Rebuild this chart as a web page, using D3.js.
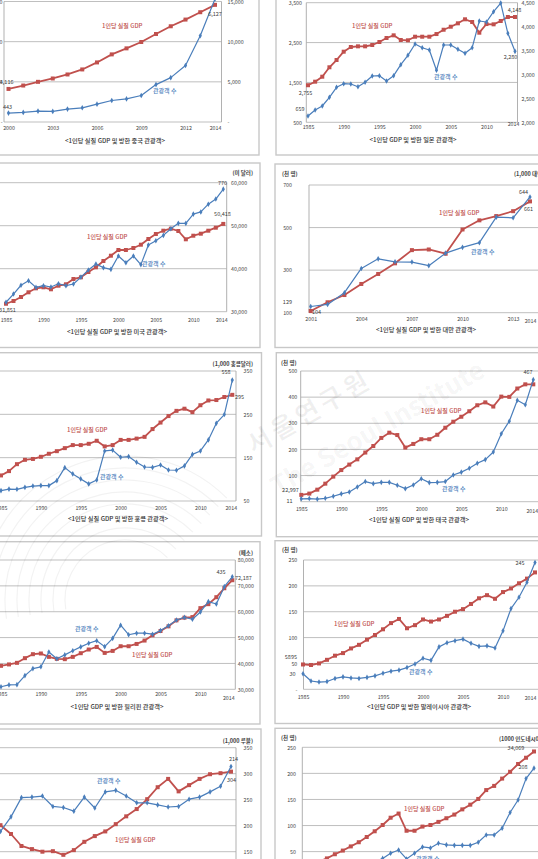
<!DOCTYPE html>
<html>
<head>
<meta charset="utf-8">
<script src="https://cdn.jsdelivr.net/npm/d3@7"></script>
<style>
  html, body { margin: 0; padding: 0; background: #fff; }
  svg { display: block; font-family: "Noto Sans CJK KR", "Noto Sans", sans-serif; }
</style>
</head>
<body>
<svg id="chart" width="538" height="859"></svg>
<script>
// ---- data ----
const years85 = [1985, 1986, 1987, 1988, 1989, 1990, 1991, 1992, 1993, 1994, 1995, 1996, 1997, 1998, 1999,
                 2000, 2001, 2002, 2003, 2004, 2005, 2006, 2007, 2008, 2009, 2010, 2011, 2012, 2013, 2014];
const years00 = [2000, 2001, 2002, 2003, 2004, 2005, 2006, 2007, 2008, 2009, 2010, 2011, 2012, 2013, 2014];
const years01 = [2001, 2002, 2003, 2004, 2005, 2006, 2007, 2008, 2009, 2010, 2011, 2012, 2013, 2014];
const years92 = [1992, 1993, 1994, 1995, 1996, 1997, 1998, 1999, 2000, 2001, 2002, 2003, 2004, 2005, 2006,
                 2007, 2008, 2009, 2010, 2011, 2012, 2013, 2014];
const years94 = [1994, 1995, 1996, 1997, 1998, 1999, 2000, 2001, 2002, 2003, 2004, 2005, 2006, 2007, 2008,
                 2009, 2010, 2011, 2012, 2013, 2014];
const years87 = [1987, 1988, 1989, 1990, 1991, 1992, 1993, 1994, 1995, 1996, 1997, 1998, 1999, 2000, 2001,
                 2002, 2003, 2004, 2005, 2006, 2007, 2008, 2009, 2010, 2011, 2012, 2013, 2014];

const chinaVisitors = [443, 479, 543, 528, 642, 706, 889, 1071, 1150, 1318, 1862, 2208, 2816, 4298, 6127];
const chinaGdp = [4116, 4540, 5000, 5417, 5917, 6542, 7417, 8417, 9167, 9958, 10958, 11917, 12750, 13667, 14583];

const japanVisitors = [659, 808, 909, 1127, 1378, 1468, 1461, 1393, 1503, 1661, 1669, 1536, 1669, 1945, 2180,
                       2464, 2371, 2313, 1804, 2439, 2439, 2331, 2231, 2371, 3041, 3016, 3274, 3492, 2732, 2280];
const japanGdp = [2775, 2849, 2953, 3150, 3302, 3476, 3574, 3588, 3588, 3616, 3678, 3762, 3818, 3720, 3714,
                  3789, 3789, 3789, 3845, 3935, 3998, 4069, 4153, 4096, 3873, 4054, 4048, 4117, 4201, 4201];

const usVisitors = [244, 282, 323, 344, 313, 321, 315, 330, 321, 329, 361, 394, 422, 405, 397,
                    459, 428, 459, 419, 510, 530, 555, 586, 611, 611, 654, 664, 700, 724, 770];
const usGdp = [31851, 32488, 33419, 34512, 35442, 35674, 35209, 36047, 36372, 37605, 38000, 39233, 40326, 41791, 43023,
               44349, 44349, 44814, 45581, 46907, 48070, 48837, 49302, 48767, 46837, 47674, 48140, 48837, 49535, 50418];

const taiwanVisitors = [129, 139, 194, 308, 353, 339, 338, 321, 380, 407, 429, 549, 546, 644];
const taiwanGdp = [108, 149, 183, 235, 282, 332, 394, 397, 377, 491, 534, 554, 577, 623];

const hkVisitors = [48, 55, 54, 63, 69, 71, 71, 94, 154, 125, 102, 79, 97, 231, 235,
                    202, 205, 179, 157, 155, 166, 143, 142, 162, 215, 231, 282, 359, 399, 558];
const hkGdp = [109, 119, 135, 145, 147, 152, 159, 165, 172, 179, 179, 182, 189, 176, 179,
               191, 191, 194, 198, 216, 231, 246, 258, 263, 255, 271, 282, 283, 290, 295];

const thaiVisitors = [11, 12, 10, 13, 21, 30, 37, 56, 77, 69, 74, 74, 63, 50, 64,
                      88, 73, 74, 77, 102, 113, 128, 147, 161, 190, 260, 308, 388, 371, 467];
const thaiGdp = [26, 31, 46, 69, 96, 121, 142, 162, 188, 213, 244, 264, 255, 207, 221,
                 239, 239, 256, 283, 306, 325, 346, 369, 380, 364, 402, 401, 433, 449, 449];

const philVisitors = [10, 17, 18, 53, 80, 87, 144, 118, 133, 149, 164, 178, 188, 165, 197,
                      248, 211, 217, 217, 213, 227, 246, 268, 278, 271, 299, 339, 330, 397, 435];
const philGdp = [39077, 39615, 40231, 42038, 43577, 43846, 42538, 41769, 41654, 42538, 43961, 45385, 46385, 44077, 44846,
                 46654, 46654, 47538, 48846, 50885, 52538, 54346, 56654, 57692, 57923, 61385, 62923, 65615, 69077, 72187];

const malayVisitors = [30, 16, 14, 15, 21, 24, 22, 21, 23, 26, 31, 35, 37, 42, 49,
                       60, 56, 82, 90, 94, 97, 89, 83, 84, 80, 113, 156, 178, 207, 245];
const malayGdp = [48, 47, 50, 57, 65, 70, 79, 86, 96, 105, 116, 128, 136, 118, 124,
                  135, 131, 135, 142, 150, 155, 165, 176, 182, 175, 188, 195, 205, 214, 226];

const russiaVisitors = [89, 117, 154, 155, 157, 137, 135, 128, 155, 134, 165, 168, 157, 144, 144,
                        140, 136, 137, 151, 155, 165, 176, 214];
const russiaGdp = [201, 184, 161, 155, 150, 151, 144, 153, 169, 180, 189, 203, 218, 232, 251,
                   274, 290, 266, 278, 290, 299, 301, 304];

const indoVisitors = [30, 37, 47, 53, 36, 47, 59, 57, 66, 63, 62, 62, 62, 68, 82, 82, 95, 125, 149, 190, 210];
const indoGdp = [31, 37, 45, 52, 60, 68, 78, 89, 101, 115, 123, 90, 90, 98, 101, 107, 114, 121, 131, 140,
                 151, 168, 176, 190, 203, 218, 230, 242];

const ticks85 = [1985, 1990, 1995, 2000, 2005, 2010, 2014];

// ---- layout ----
const svg = d3.select("#chart");
const RED = "#c0504d", BLUE = "#4a7ebb";
const comma = d3.format(",");
const dashZero = d => d === 0 ? "-" : comma(d);
const GDP = "1인당 실질 GDP", VIS = "관광객 수";

const panels = [
  { // China
    box: [-5, -10, 264, 165], l: 4, r: 221.5, t: 1.5, b: 122, x0: 8.5, x1: 215,
    years: years00, xTicks: [2000, 2003, 2006, 2009, 2012, 2014], xLabelY: 128,
    left: { domain: [0, 6000], ticks: [0, 2000, 4000, 6000], labelX: 2.5, fmt: dashZero },
    right: { domain: [0, 15000], ticks: [0, 5000, 10000, 15000], labelX: 227.5, fmt: dashZero },
    blue: { values: chinaVisitors, axis: "left" }, red: { values: chinaGdp, axis: "right" },
    caption: ["<1인당 실질 GDP 및 방한 중국 관광객>", 115, 141],
    texts: [["4,116", 13.5, 82, "end"], ["443", 7.5, 107, "middle"], ["6,127", 215, 14, "middle"],
            [GDP, 102, 26, "start", RED], [VIS, 153, 91, "start", BLUE]]
  },
  { // Japan
    box: [276, -10, 270, 165], l: 306.3, r: 517.5, t: 2.7, b: 122.3, x0: 308, x1: 515,
    years: years85, xTicks: ticks85, xLabelY: 126.7, lastDy: -2.4, lastDx: -2,
    left: { domain: [500, 3500], ticks: [500, 1500, 2500, 3500], labelX: 302 },
    right: { domain: [2000, 4500], ticks: [2000, 2500, 3000, 3500, 4000, 4500], labelX: 521.5 },
    blue: { values: japanVisitors, axis: "left" }, red: { values: japanGdp, axis: "right" },
    caption: ["<1인당 GDP 및 방한 일본 관광객>", 413, 140],
    texts: [["2,755", 305.5, 93.3, "middle"], ["659", 300, 109, "middle"], ["4,148", 514.5, 10, "middle"],
            ["2,280", 510.5, 57.3, "middle"], [GDP, 352, 26, "start", RED], [VIS, 434, 76.7, "start", BLUE]]
  },
  { // USA
    box: [-5, 163, 265, 184.5], l: -3, r: 226.7, t: 182.7, b: 311.7, x0: 6, x1: 223.3,
    years: years85, xTicks: ticks85, xLabelY: 320, lastDx: -2,
    left: { domain: [200, 800], ticks: [200, 400, 600, 800], hidden: true },
    right: { domain: [30000, 60000], ticks: [30000, 40000, 50000, 60000], labelX: 231 },
    blue: { values: usVisitors, axis: "left" }, red: { values: usGdp, axis: "right" },
    caption: ["<1인당 실질 GDP 및 방한 미국 관광객>", 117, 331.7],
    texts: [["(미 달러)", 253, 173, "end", null, true], ["770", 222.5, 183, "middle"], ["50,418", 222.5, 214, "middle"],
            ["31,851", 7.5, 310, "middle"], [GDP, 87, 236.7, "start", RED], [VIS, 142, 264, "start", BLUE]]
  },
  { // Taiwan
    box: [275, 164, 270, 183.5], l: 309, r: 545, t: 185, b: 312.7, x0: 310.7, x1: 530,
    years: years01, xTicks: [2001, 2004, 2007, 2010, 2013, 2014], xLabelY: 319.3, lastDy: 1.8,
    left: { domain: [100, 700], ticks: [100, 300, 500, 700], labelX: 292 },
    right: { domain: [100, 700], ticks: [], hidden: true },
    blue: { values: taiwanVisitors, axis: "left" }, red: { values: taiwanGdp, axis: "right" },
    caption: ["<1인당 실질 GDP 및 방한 대만 관광객>", 426, 330],
    texts: [["(천 명)", 282, 174, "start", null, true], ["(1,000 대만달러)", 514, 174, "start", null, true],
            ["129", 292, 302, "end"], ["104", 312, 311.7, "start"], ["644", 523.5, 191.7, "middle"],
            ["661", 528.5, 209, "middle"], [GDP, 439, 213, "start", RED], [VIS, 471, 252, "start", BLUE]]
  },
  { // Hong Kong
    box: [-5, 352.7, 266.5, 183.3], l: -3, r: 236, t: 371, b: 501, x0: 1, x1: 232.3,
    years: years85, xTicks: ticks85, xLabelY: 508.3, lastDx: -1.5,
    left: { domain: [0, 600], ticks: [0, 200, 400, 600], hidden: true },
    right: { domain: [50, 350], ticks: [50, 150, 250, 350], labelX: 243.5 },
    blue: { values: hkVisitors, axis: "left" }, red: { values: hkGdp, axis: "right" },
    caption: ["<1인당 실질 GDP 및 방한 홍콩 관광객>", 118, 519],
    texts: [["(1,000 홍콩달러)", 253, 364, "end", null, true], ["558", 226, 372.3, "middle"], ["295", 235, 397.3, "start"],
            [GDP, 67, 430, "start", RED], [VIS, 100, 477.3, "start", BLUE]]
  },
  { // Thailand
    box: [276.3, 352.7, 270, 184], l: 300.7, r: 545, t: 371, b: 501.7, x0: 301.3, x1: 533.3,
    years: years85, xTicks: ticks85, xLabelY: 509.3, lastDy: 1.8, lastDx: -1.5,
    left: { domain: [0, 500], ticks: [0, 100, 200, 300, 400, 500], labels: [100, 200, 300, 400, 500], labelX: 297.3 },
    right: { domain: [0, 500], ticks: [], hidden: true },
    blue: { values: thaiVisitors, axis: "left" }, red: { values: thaiGdp, axis: "right" },
    caption: ["<1인당 실질 GDP 및 방한 태국 관광객>", 419, 520],
    texts: [["(천 명)", 281, 363, "start", null, true], ["22,997", 290.5, 490, "middle"], ["11", 289.5, 500.7, "middle"],
            ["467", 528, 372.3, "middle"], [GDP, 421, 411, "start", RED], [VIS, 442, 489, "start", BLUE]]
  },
  { // Philippines
    box: [-5, 541.7, 265, 182.3], l: -3, r: 235.3, t: 560, b: 689.3, x0: 1, x1: 232.3,
    years: years85, xTicks: ticks85, xLabelY: 694.3, lastDy: 4, lastDx: -4,
    left: { domain: [0, 500], ticks: [0, 100, 200, 300, 400, 500], hidden: true },
    right: { domain: [30000, 80000], ticks: [30000, 40000, 50000, 60000, 70000, 80000], labelX: 237.7 },
    blue: { values: philVisitors, axis: "left" }, red: { values: philGdp, axis: "right" },
    caption: ["<1인당 GDP 및 방한 필리핀 관광객>", 117, 706.7],
    texts: [["(페소)", 253, 552.7, "end", null, true], ["435", 221, 572.3, "middle"], ["72,187", 235, 578, "start"],
            [VIS, 75, 629, "start", BLUE], [GDP, 132, 655.3, "start", RED]]
  },
  { // Malaysia
    box: [275, 540.7, 270, 182.8], l: 303.5, r: 545, t: 560, b: 689.3, x0: 303, x1: 535,
    years: years85, xTicks: ticks85, xLabelY: 696.7, lastDy: 1.5, lastDx: -5,
    left: { domain: [0, 250], ticks: [0, 50, 100, 150, 200, 250], labelX: 297.3, fmt: dashZero },
    right: { domain: [0, 250], ticks: [], hidden: true },
    blue: { values: malayVisitors, axis: "left" }, red: { values: malayGdp, axis: "right" },
    caption: ["<1인당 GDP 및 방한 말레이시아 관광객>", 419, 707.3],
    texts: [["(천 명)", 282, 550, "start", null, true], ["5895", 297, 657.3, "end"], ["30", 295.5, 674, "end"],
            ["245", 520, 563.3, "middle"], [GDP, 334, 624, "start", RED], [VIS, 409, 671.7, "start", BLUE]]
  },
  { // Russia
    box: [-5, 729, 266, 150], l: -3, r: 236, t: 747.7, b: 877.7, x0: 0.5, x1: 231,
    years: years92, xTicks: [], xLabelY: 885,
    left: { domain: [0, 250], ticks: [0, 50, 100, 150, 200, 250], hidden: true },
    right: { domain: [100, 350], ticks: [100, 150, 200, 250, 300, 350], labelX: 243.5 },
    blue: { values: russiaVisitors, axis: "left" }, red: { values: russiaGdp, axis: "right" },
    caption: null,
    texts: [["(1,000 루블)", 253, 740.7, "end", null, true], ["214", 233.5, 759, "middle"], ["304", 231.5, 780, "middle"],
            [VIS, 97, 781, "start", BLUE], [GDP, 115, 840, "start", RED]]
  },
  { // Indonesia
    box: [275, 728.3, 270, 150], l: 302.3, r: 545, t: 747.3, b: 877.7, x0: 303, x1: 534,
    years: years85, xTicks: [], xLabelY: 885,
    left: { domain: [0, 250], ticks: [0, 50, 100, 150, 200, 250], labelX: 296 },
    right: { domain: [0, 250], ticks: [], hidden: true },
    blue: { values: indoVisitors, years: years94, axis: "left" },
    red: { values: indoGdp, years: years87, axis: "right" },
    caption: null,
    texts: [["(천 명)", 281, 737.7, "start", null, true], ["(1000 인도네시아 루피아)", 499, 739, "start", null, true],
            ["208", 523, 767.3, "middle"], ["34,069", 516, 748.3, "middle"],
            [GDP, 404, 809, "start", RED], [VIS, 416, 859, "start", BLUE]]
  }
];

function styleAxis(a) {
  a.select(".domain").remove();
  a.attr("font-family", null).attr("font-size", null);
  a.selectAll("text").attr("font-size", 5.3).attr("fill", "#454545");
}

function drawPanel(p) {
  const g = svg.append("g");
  g.append("rect")
    .attr("x", p.box[0]).attr("y", p.box[1]).attr("width", p.box[2]).attr("height", p.box[3])
    .attr("fill", "#fff").attr("stroke", "#c8c8c8").attr("stroke-width", 1.4);

  const x = d3.scaleLinear().domain([p.years[0], p.years[p.years.length - 1]]).range([p.x0, p.x1]);
  const yL = d3.scaleLinear().domain(p.left.domain).range([p.b, p.t]);
  const yR = d3.scaleLinear().domain(p.right.domain).range([p.b, p.t]);

  // gridlines
  g.selectAll("line.grid").data(p.left.ticks).join("line")
    .attr("class", "grid")
    .attr("x1", p.l).attr("x2", p.r)
    .attr("y1", d => yL(d)).attr("y2", d => yL(d))
    .attr("stroke", "#b8b8b8").attr("stroke-width", 0.9);

  // vertical axis lines
  [p.l, p.r].forEach(v => {
    g.append("line").attr("x1", v).attr("x2", v).attr("y1", p.t).attr("y2", p.b)
      .attr("stroke", "#a8a8a8").attr("stroke-width", 0.9);
  });

  if (!p.left.hidden) {
    g.append("g").attr("transform", `translate(${p.left.labelX},0)`)
      .call(d3.axisLeft(yL).tickValues(p.left.labels || p.left.ticks)
        .tickSize(0).tickPadding(0).tickFormat(p.left.fmt || comma))
      .call(styleAxis);
  }
  if (!p.right.hidden) {
    g.append("g").attr("transform", `translate(${p.right.labelX},0)`)
      .call(d3.axisRight(yR).tickValues(p.right.ticks)
        .tickSize(0).tickPadding(0).tickFormat(p.right.fmt || comma))
      .call(styleAxis);
  }

  const xa = g.append("g").attr("transform", `translate(0,${p.xLabelY})`)
    .call(d3.axisBottom(x).tickValues(p.xTicks).tickSize(0).tickPadding(0).tickFormat(d3.format("d")))
    .call(styleAxis);
  xa.selectAll("text").attr("dy", "0.35em")
    .attr("y", d => d === 2014 ? (p.lastDy || 0) : 0)
    .attr("x", d => d === 2014 ? (p.lastDx || 0) : 0);

  // series
  const defs = [
    { s: p.red, color: RED, width: 1.8, shape: d3.symbolSquare, size: 16 },
    { s: p.blue, color: BLUE, width: 1.2, shape: d3.symbolDiamond, size: 9 }
  ];
  defs.forEach(d => {
    const yrs = d.s.years || p.years;
    const y = d.s.axis === "left" ? yL : yR;
    const pts = d.s.values.map((v, i) => [x(yrs[i]), y(v)]);
    g.append("path").datum(pts)
      .attr("d", d3.line())
      .attr("fill", "none").attr("stroke", d.color).attr("stroke-width", d.width)
      .attr("stroke-linejoin", "round");
    g.selectAll(null).data(pts).join("path")
      .attr("transform", q => `translate(${q[0]},${q[1]})`)
      .attr("d", d3.symbol().type(d.shape).size(d.size))
      .attr("fill", d.color);
  });

  // annotations
  p.texts.forEach(([t, tx, ty, anchor, color, bold]) => {
    const legend = color != null;
    g.append("text").attr("x", tx).attr("y", ty).attr("dy", "0.35em")
      .attr("text-anchor", anchor)
      .attr("font-size", legend ? 6 : 5.5)
      .attr("font-weight", bold ? "bold" : legend ? 500 : null)
      .attr("fill", color || "#404040")
      .text(t);
  });
  if (p.caption) {
    g.append("text").attr("x", p.caption[1]).attr("y", p.caption[2]).attr("dy", "0.35em")
      .attr("text-anchor", "middle").attr("font-size", 6.2).attr("font-weight", 500)
      .attr("fill", "#333").text(p.caption[0]);
  }
}

panels.forEach(drawPanel);

// faint watermark
const wm = svg.append("g").attr("pointer-events", "none");
const arcs = wm.append("g").attr("fill", "none").attr("stroke", "#000").attr("stroke-opacity", 0.05).attr("stroke-width", 1.2);
[60, 72, 84, 96, 108, 120, 132, 144].forEach(r => {
  const pth = d3.path();
  pth.arc(125, 600, r, Math.PI * 0.95, Math.PI * 1.75);
  arcs.append("path").attr("d", pth.toString());
});
wm.append("text").attr("transform", "translate(314,420) rotate(-30)")
  .attr("text-anchor", "middle").attr("font-size", 26).attr("font-weight", "bold")
  .attr("letter-spacing", 4).attr("fill", "#000").attr("fill-opacity", 0.06).text("서울연구원");
wm.append("text").attr("transform", "translate(382,436) rotate(-30)")
  .attr("text-anchor", "middle").attr("font-size", 26).attr("font-weight", "bold")
  .attr("fill", "#000").attr("fill-opacity", 0.05).text("The Seoul Institute");
</script>
</body>
</html>
